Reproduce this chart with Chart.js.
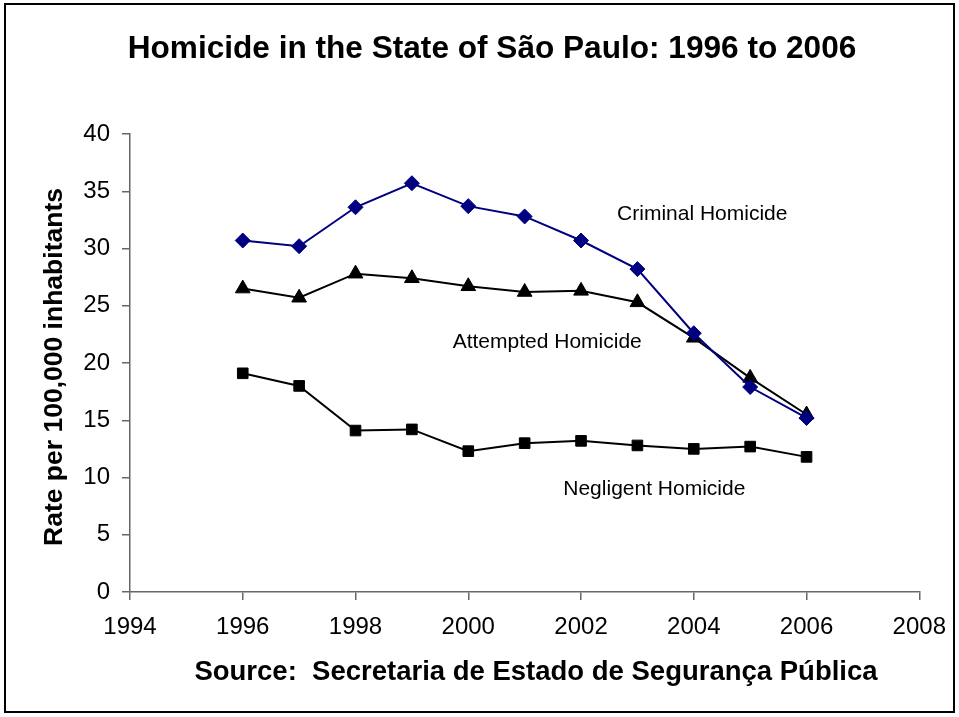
<!DOCTYPE html>
<html>
<head>
<meta charset="utf-8">
<title>Homicide in the State of São Paulo</title>
<script src="https://cdn.jsdelivr.net/npm/chart.js@4.4.1/dist/chart.umd.min.js"></script>
<style>
  html, body { margin: 0; padding: 0; background: #fff; }
  #wrap { width: 959px; height: 717px; position: relative; }
</style>
</head>
<body>
<div id="wrap"><canvas id="chart" width="959" height="717"></canvas></div>
<script>
// Rates per 100,000 inhabitants, one value per year
const years = [1996, 1997, 1998, 1999, 2000, 2001, 2002, 2003, 2004, 2005, 2006];
const criminal = [30.7, 30.2, 33.6, 35.7, 33.7, 32.8, 30.7, 28.2, 22.6, 17.9, 15.2];
const attempted = [26.5, 25.7, 27.8, 27.4, 26.7, 26.2, 26.3, 25.3, 22.2, 18.7, 15.5];
const negligent = [19.1, 18.0, 14.1, 14.2, 12.3, 13.0, 13.2, 12.8, 12.5, 12.7, 11.8];

const xTicks = [1994, 1996, 1998, 2000, 2002, 2004, 2006, 2008];
const yTicks = [0, 5, 10, 15, 20, 25, 30, 35, 40];

const chartTitle = 'Homicide in the State of São Paulo: 1996 to 2006';
const yTitle = 'Rate per 100,000 inhabitants';
const sourceText = 'Source:  Secretaria de Estado de Segurança Pública';

// series labels sit inside the plot, anchored in data units
const seriesLabels = [
    { text: 'Criminal Homicide', x: 2004.15, y: 33.0 },
    { text: 'Attempted Homicide', x: 2001.4, y: 21.8 },
    { text: 'Negligent Homicide', x: 2003.3, y: 9.0 }
];

const FONT = '"Liberation Sans", Arial, sans-serif';
const AXIS_COLOR = '#666666';

function toPoints(values) {
    return values.map((v, i) => ({ x: years[i], y: v }));
}

// Frame, titles and in-plot labels
const decorations = {
    id: 'decorations',
    afterDraw(chart) {
        const ctx = chart.ctx;
        const xs = chart.scales.x;
        const ys = chart.scales.y;
        ctx.save();

        // outer frame
        ctx.strokeStyle = '#000';
        ctx.lineWidth = 2;
        ctx.strokeRect(5, 4, 949, 708);

        ctx.fillStyle = '#000';
        ctx.textAlign = 'center';
        ctx.textBaseline = 'alphabetic';

        ctx.font = 'bold 31.6px ' + FONT;
        ctx.fillText(chartTitle, 492, 58);

        ctx.font = 'bold 27.5px ' + FONT;
        ctx.fillText(sourceText, 536, 680);

        ctx.font = 'bold 26.5px ' + FONT;
        ctx.save();
        ctx.translate(62, 367);
        ctx.rotate(-Math.PI / 2);
        ctx.fillText(yTitle, 0, 0);
        ctx.restore();

        ctx.font = '21px ' + FONT;
        ctx.textBaseline = 'middle';
        seriesLabels.forEach(l => {
            ctx.fillText(l.text, xs.getPixelForValue(l.x), ys.getPixelForValue(l.y));
        });

        ctx.restore();
    }
};

const ctx = document.getElementById('chart').getContext('2d');
new Chart(ctx, {
    type: 'line',
    data: {
        datasets: [
            {
                label: 'Criminal Homicide',
                data: toPoints(criminal),
                borderColor: '#000080',
                backgroundColor: '#000080',
                borderWidth: 2,
                pointStyle: 'rectRot',
                pointRadius: 7.5,
                pointBorderWidth: 1,
                tension: 0
            },
            {
                label: 'Attempted Homicide',
                data: toPoints(attempted),
                borderColor: '#000',
                backgroundColor: '#000',
                borderWidth: 2,
                pointStyle: 'triangle',
                pointRadius: 8.5,
                pointBorderWidth: 1,
                tension: 0
            },
            {
                label: 'Negligent Homicide',
                data: toPoints(negligent),
                borderColor: '#000',
                backgroundColor: '#000',
                borderWidth: 2,
                pointStyle: 'rect',
                pointRadius: 7.5,
                pointBorderWidth: 1,
                tension: 0
            }
        ]
    },
    options: {
        responsive: false,
        animation: false,
        layout: {
            padding: { left: 0, right: 37, top: 134, bottom: 0 }
        },
        plugins: {
            legend: { display: false },
            tooltip: { enabled: false },
            title: { display: false }
        },
        scales: {
            x: {
                type: 'linear',
                min: 1994,
                max: 2008,
                afterBuildTicks: scale => {
                    scale.ticks = xTicks.map(v => ({ value: v }));
                },
                afterFit: scale => { scale.height = 125; },
                border: { color: AXIS_COLOR, width: 1.5 },
                grid: { drawOnChartArea: false, tickLength: 8, color: AXIS_COLOR, lineWidth: 1.5 },
                ticks: {
                    color: '#000',
                    padding: 13,
                    maxRotation: 0,
                    autoSkip: false,
                    font: { family: FONT, size: 24 },
                    callback: v => String(v)
                }
            },
            y: {
                min: 0,
                max: 40,
                afterBuildTicks: scale => {
                    scale.ticks = yTicks.map(v => ({ value: v }));
                },
                afterFit: scale => { scale.width = 130; },
                border: { color: AXIS_COLOR, width: 1.5 },
                grid: { drawOnChartArea: false, tickLength: 8, color: AXIS_COLOR, lineWidth: 1.5 },
                ticks: {
                    color: '#000',
                    padding: 12,
                    font: { family: FONT, size: 24 }
                }
            }
        }
    },
    plugins: [decorations]
});
</script>
</body>
</html>
